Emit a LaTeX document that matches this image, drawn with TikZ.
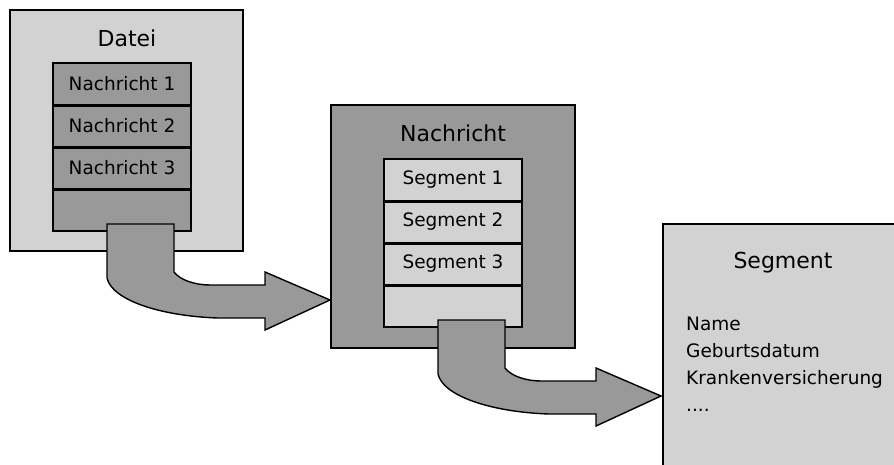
\documentclass[tikz,border=0pt]{standalone}
\usepackage{fontspec}
\setmainfont{DejaVu Sans}
\definecolor{lightg}{RGB}{210,210,210}
\definecolor{darkg}{RGB}{153,153,153}
\tikzset{
  outerbox/.style={draw=black, line width=1.5pt, inner sep=0pt},
  rowbox/.style={draw=black, line width=1.5pt, minimum width=138pt, minimum height=42pt, inner sep=0pt, font=\fontsize{18.5}{20}\selectfont},
  divider/.style={line width=3pt},
  title/.style={font=\fontsize{22}{24}\selectfont},
  blockarrow/.style={draw=black, line width=1.4pt, fill=darkg, line join=miter},
}
\begin{document}
\begin{tikzpicture}[x=1pt,y=-1pt]
\path[use as bounding box, clip] (0,0) rectangle (894,464);
\fill[white] (0,0) rectangle (894,464);

% Datei box
\node[outerbox, fill=lightg, minimum width=233pt, minimum height=241pt] (datei) at (126.5,130.5) {};
\node[title] (dateit) at (127,38) {Datei};
\node[rowbox, fill=darkg] (n1) at (122,84) {Nachricht 1};
\node[rowbox, fill=darkg] (n2) at (122,126) {Nachricht 2};
\node[rowbox, fill=darkg] (n3) at (122,168) {Nachricht 3};
\node[rowbox, fill=darkg] (n4) at (122,210) {};
\draw[divider] (n1.south west) -- (n1.south east);
\draw[divider] (n2.south west) -- (n2.south east);
\draw[divider] (n3.south west) -- (n3.south east);

% Nachricht box
\node[outerbox, fill=darkg, minimum width=244pt, minimum height=243pt] (nachricht) at (453,226.5) {};
\node[title] (nachrichtt) at (453,133) {Nachricht};
\node[rowbox, fill=lightg] (s1) at (453,180) {Segment 1};
\node[rowbox, fill=lightg] (s2) at (453,222) {Segment 2};
\node[rowbox, fill=lightg] (s3) at (453,264) {Segment 3};
\node[rowbox, fill=lightg] (s4) at (453,306) {};
\draw[divider] (s1.south west) -- (s1.south east);
\draw[divider] (s2.south west) -- (s2.south east);
\draw[divider] (s3.south west) -- (s3.south east);

% Segment box
\node[outerbox, fill=lightg, anchor=north west, minimum width=260pt, minimum height=260pt] (segment) at (662,223) {};
\node[title] (segmentt) at (783,263) {Segment};
\node[anchor=north west, align=left, inner sep=0pt, font=\fontsize{18.5}{27}\selectfont] (fields) at (686,317) {Name\\Geburtsdatum\\Krankenversicherung\\....};

% block arrows
\foreach \dx/\dy/\nm in {0/0/a1, 331/96/a2}{
  \begin{scope}[shift={(\dx,\dy)}]
    \draw[blockarrow] (107,224) -- (174,224) -- (174,272)
      .. controls (180,280) and (195,285) .. (210,285)
      -- (265,285) -- (265,272) -- (330,300) -- (265,330) -- (265,318) -- (218,318)
      .. controls (160,316) and (112,300) .. (107,278) -- cycle;
  \end{scope}
}
\end{tikzpicture}
\end{document}
